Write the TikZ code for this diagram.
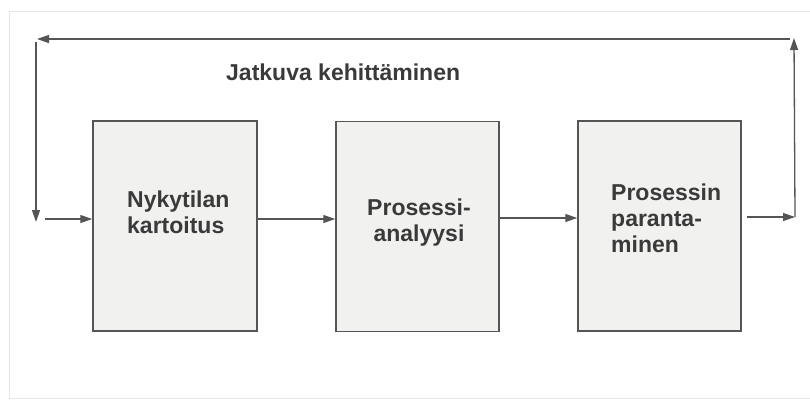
\documentclass[tikz,border=0pt]{standalone}
\usepackage{fontspec}
\setmainfont{Liberation Sans}
\usetikzlibrary{arrows.meta}
\definecolor{linegray}{HTML}{555555}
\definecolor{boxfill}{HTML}{F1F1EF}
\definecolor{txtgray}{HTML}{3A3A3A}
\definecolor{framegray}{HTML}{E6E6E6}
\tikzset{
  stagebox/.style={draw=linegray, line width=1.5pt, fill=boxfill, rectangle, inner sep=0pt},
  flow/.style={draw=linegray, line width=1.3pt, -{Triangle[length=12pt,width=8pt]}},
  lbl/.style={font=\fontsize{23}{26}\selectfont\bfseries, text=txtgray, inner sep=0pt, align=left, anchor=base west},
}
\begin{document}
\begin{tikzpicture}[x=1pt,y=-1pt]
\useasboundingbox (0,0) rectangle (810,400);
\fill[white] (0,0) rectangle (810,400);
% faint frame
\draw[framegray, line width=1pt] (810,11) -- (9,11) -- (9,398) -- (810,398);

% boxes
\node[stagebox, minimum width=164pt, minimum height=210pt] (b1) at (175,226) {};
\node[stagebox, minimum width=163pt, minimum height=210pt] (b2) at (417.5,226.5) {};
\node[stagebox, minimum width=163pt, minimum height=210pt] (b3) at (659.5,226) {};

% labels (base anchor = baseline of the last line)
\node[lbl] (t1) at (127,233) {Nykytilan\\kartoitus};
\node[lbl, align=center, anchor=base] (t2) at (419,241) {Prosessi-\\analyysi};
\node[lbl] (t3) at (611,252) {Prosessin\\paranta-\\minen};
\node[lbl, anchor=base west] (title) at (226,80) {Jatkuva kehittäminen};

% connector coordinates
\coordinate (inS) at (45,219);
\coordinate (outS) at (747,217);
\coordinate (outE) at (795,217);
\coordinate (rTop) at (794,38);
\coordinate (topR) at (790,39);
\coordinate (topL) at (37,39);
\coordinate (lTop) at (36,42);
\coordinate (lBot) at (36,222);

% flow arrows
\draw[flow] (inS) -- (inS -| b1.west);
\draw[flow] (b1.east |- 0,219) -- (b2.west |- 0,219);
\draw[flow] (b2.east |- 0,218) -- (b3.west |- 0,218);
\draw[flow] (outS) -- (outE);
% feedback loop
\draw[flow] (outE) -- (rTop);
\draw[flow] (topR) -- (topL);
\draw[flow] (lTop) -- (lBot);
\end{tikzpicture}
\end{document}
